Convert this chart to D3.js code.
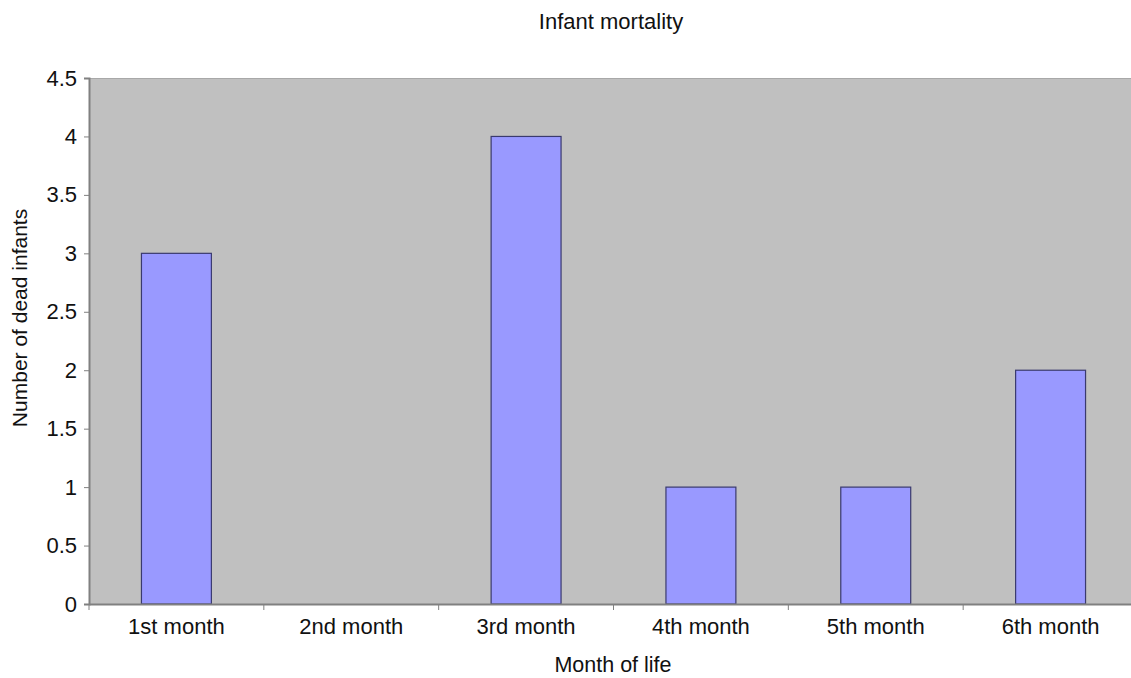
<!DOCTYPE html>
<html>
<head>
<meta charset="utf-8">
<script src="https://cdn.jsdelivr.net/npm/d3@7"></script>
<style>
  body { margin: 0; background: #fff; }
  text { font-family: Arial, "Liberation Sans", sans-serif; fill: #111; }
</style>
</head>
<body>
<svg class="BarChart" width="1131" height="678"></svg>
<script>
var months = ["1st month", "2nd month", "3rd month", "4th month", "5th month", "6th month"];
var deaths = [3, 0, 4, 1, 1, 2];
var yTicks = [0, 0.5, 1, 1.5, 2, 2.5, 3, 3.5, 4, 4.5];

var meta = {};
meta['left'] = 89;
meta['right'] = 1138;
meta['top'] = 78;
meta['bottom'] = 604;

var svg = d3.select(".BarChart");

const xScale = d3.scaleBand()
    .range([meta['left'], meta['right']])
    .domain(months)
    .paddingInner(0)
    .paddingOuter(0);

const yScale = d3.scaleLinear()
    .range([meta['bottom'], meta['top']])
    .domain([0, 4.5]);

// plot background
svg.append('rect')
    .attr('x', meta['left'])
    .attr('y', meta['top'])
    .attr('width', meta['right'] - meta['left'])
    .attr('height', meta['bottom'] - meta['top'])
    .attr('fill', '#c0c0c0');

svg.append('line')
    .attr('x1', meta['left']).attr('x2', meta['right'])
    .attr('y1', meta['top'] + 0.5).attr('y2', meta['top'] + 0.5)
    .attr('stroke', '#a8a8a8');

// bars
var barW = xScale.bandwidth() * 0.4;
svg.selectAll('.bar')
    .data(months.map((m, i) => ({month: m, value: deaths[i]})).filter(d => d.value > 0))
    .enter()
    .append('rect')
    .attr('class', 'bar')
    .attr('x', d => xScale(d.month) + xScale.bandwidth()/2 - barW/2)
    .attr('y', d => yScale(d.value))
    .attr('width', barW)
    .attr('height', d => yScale(0) - yScale(d.value))
    .attr('fill', '#9999ff')
    .attr('stroke', '#3a3a6e')
    .attr('stroke-width', 1.2);

// y axis
var yAxis = svg.append('g')
    .attr('transform', `translate(${meta['left']},0)`)
    .call(d3.axisLeft(yScale).tickValues(yTicks).tickSize(5).tickPadding(7)
        .tickFormat(d => String(d)));
yAxis.select('.domain').attr('stroke', '#808080').attr('stroke-width', 2);
yAxis.selectAll('.tick line').attr('stroke', '#808080');
yAxis.selectAll('.tick text')
    .attr('font-size', 22)
    .attr('font-family', 'Arial, "Liberation Sans", sans-serif')
    .attr('fill', '#111');

// x axis
var xAxis = svg.append('g')
    .attr('transform', `translate(0,${meta['bottom']})`)
    .call(d3.axisBottom(xScale).tickSize(0).tickPadding(14));
xAxis.select('.domain').attr('stroke', '#808080').attr('stroke-width', 2);
xAxis.selectAll('.tick text')
    .attr('font-size', 22)
    .attr('font-family', 'Arial, "Liberation Sans", sans-serif')
    .attr('fill', '#111');

// x boundary ticks between categories
svg.append('g')
    .selectAll('line')
    .data(months)
    .enter()
    .append('line')
    .attr('x1', d => xScale(d))
    .attr('x2', d => xScale(d))
    .attr('y1', meta['bottom'])
    .attr('y2', meta['bottom'] + 6)
    .attr('stroke', '#808080');

// titles
svg.append('text')
    .attr('x', 611)
    .attr('y', 29)
    .attr('text-anchor', 'middle')
    .attr('font-size', 22)
    .text("Infant mortality");

svg.append('text')
    .attr('x', 613)
    .attr('y', 672)
    .attr('text-anchor', 'middle')
    .attr('font-size', 21.5)
    .text("Month of life");

svg.append('text')
    .attr('transform', 'rotate(-90)')
    .attr('x', -318)
    .attr('y', 27)
    .attr('text-anchor', 'middle')
    .attr('font-size', 21)
    .text("Number of dead infants");
</script>
</body>
</html>
